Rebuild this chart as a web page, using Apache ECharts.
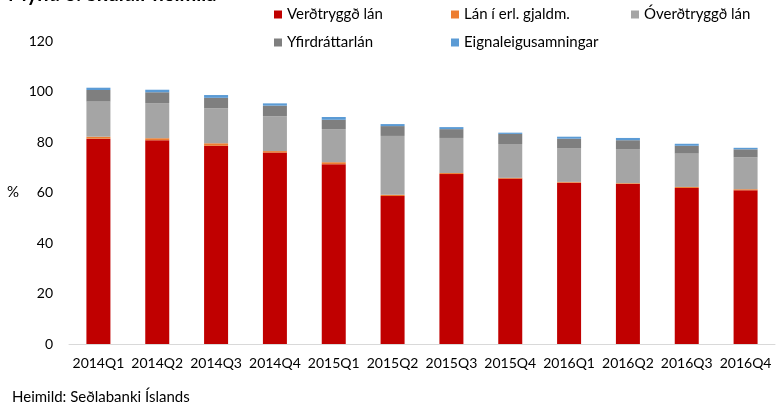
<!DOCTYPE html>
<html>
<head>
<meta charset="utf-8">
<script src="https://cdn.jsdelivr.net/npm/echarts@6/dist/echarts.min.js"></script>
<style>
html,body{margin:0;padding:0;background:#fff;}
#chart{width:776px;height:405px;}
</style>
</head>
<body>
<div id="chart"></div>
<script>
// tölur lesnar af myndinni, % af ráðstöfunartekjum
var quarters = ['2014Q1','2014Q2','2014Q3','2014Q4','2015Q1','2015Q2','2015Q3','2015Q4','2016Q1','2016Q2','2016Q3','2016Q4'];
var verdtryggd  = [81.3, 80.7, 78.5, 75.8, 71.2, 58.6, 67.3, 65.5, 63.9, 63.4, 61.8, 60.9];
var erlGjaldm   = [0.8, 0.8, 1.0, 0.6, 0.8, 0.5, 0.4, 0.3, 0.3, 0.3, 0.4, 0.4];
var overdtryggd = [13.9, 13.9, 13.8, 13.8, 13.1, 23.3, 13.9, 13.4, 13.4, 13.5, 13.2, 12.6];
var yfirdrattur = [4.6, 4.3, 4.2, 4.2, 3.7, 3.9, 3.5, 4.0, 3.7, 3.5, 3.1, 3.2];
var eignaleiga  = [0.9, 1.0, 1.1, 0.9, 1.1, 0.8, 0.8, 0.5, 0.8, 0.9, 0.8, 0.6];
var yTicks = [0, 20, 40, 60, 80, 100, 120];

var font = 'Lato, "Liberation Sans", sans-serif';
var chart = echarts.init(document.getElementById('chart'));

function bar(name, data, color) {
    return {
        name: name,
        type: 'bar',
        stack: 'skuldir',
        data: data,
        barWidth: 24,
        itemStyle: {color: color},
        emphasis: {disabled: true}
    };
}

function legendCol(left, names) {
    return {
        data: names,
        orient: 'vertical',
        left: left,
        top: 7,
        padding: 0,
        itemGap: 13,
        itemWidth: 8,
        itemHeight: 8,
        icon: 'rect',
        selectedMode: false,
        textStyle: {fontFamily: font, fontSize: 15, color: '#000'}
    };
}

option = {
    animation: false,
    textStyle: {fontFamily: font},
    graphic: [
        {type: 'text', left: 8, top: -15,
         style: {text: 'Mynd 3. Skuldir heimila', font: 'bold 20px ' + font, fill: '#000'}},
        {type: 'text', left: 12, top: 390,
         style: {text: 'Heimild: Seðlabanki Íslands', font: '15px ' + font, fill: '#000'}}
    ],
    legend: [
        legendCol(274, ['Verðtryggð lán', 'Yfirdráttarlán']),
        legendCol(451, ['Lán í erl. gjaldm.', 'Eignaleigusamningar']),
        legendCol(631, ['Óverðtryggð lán'])
    ],
    grid: {left: 69, right: 1, top: 41, bottom: 61, containLabel: false},
    xAxis: {
        type: 'category',
        data: quarters,
        axisLine: {lineStyle: {color: '#d9d9d9', width: 1}},
        axisTick: {show: false},
        axisLabel: {color: '#000', fontSize: 14, margin: 12, interval: 0, fontFamily: font}
    },
    yAxis: {
        type: 'value',
        min: yTicks[0],
        max: yTicks[yTicks.length - 1],
        interval: 20,
        name: '%',
        nameLocation: 'middle',
        nameRotate: 0,
        nameGap: 50,
        nameTextStyle: {color: '#000', fontSize: 15, fontFamily: font},
        splitLine: {show: false},
        axisLine: {show: false},
        axisTick: {show: false},
        axisLabel: {color: '#000', fontSize: 14, margin: 16, fontFamily: font}
    },
    series: [
        bar('Verðtryggð lán', verdtryggd, '#c00000'),
        bar('Lán í erl. gjaldm.', erlGjaldm, '#ed7d31'),
        bar('Óverðtryggð lán', overdtryggd, '#a5a5a5'),
        bar('Yfirdráttarlán', yfirdrattur, '#7f7f7f'),
        bar('Eignaleigusamningar', eignaleiga, '#5b9bd5')
    ]
};
chart.setOption(option);
</script>
</body>
</html>
